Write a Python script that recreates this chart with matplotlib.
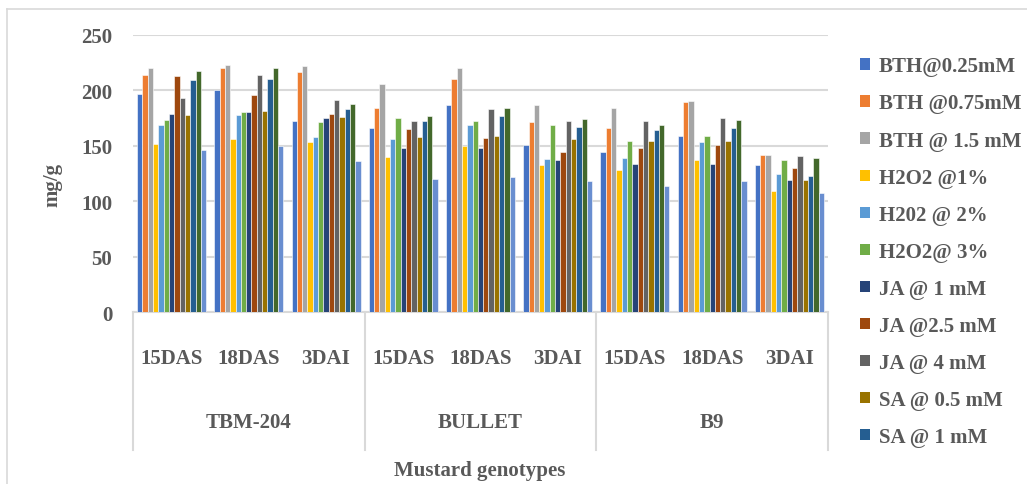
import numpy as np
import matplotlib.pyplot as plt
from matplotlib.patches import Patch
from matplotlib.lines import Line2D
import matplotlib.transforms as mtransforms

# Data: one list per treatment, 9 values = 3 genotypes x 3 stages
stages = ['15DAS', '18DAS', '3DAI']
genotypes = ['TBM-204', 'BULLET', 'B9']

bth_025 = [197, 200, 172, 166, 187, 151, 144, 159, 133]
bth_075 = [214, 220, 216, 184, 210, 171, 166, 189, 142]
bth_15 = [220, 223, 222, 206, 220, 187, 184, 190, 142]
h2o2_1 = [152, 156, 153, 140, 150, 133, 128, 137, 109]
h2o2_2 = [169, 178, 158, 156, 169, 138, 139, 153, 125]
h2o2_3 = [173, 180, 171, 175, 172, 169, 154, 159, 137]
ja_1 = [179, 180, 175, 148, 148, 137, 134, 134, 119]
ja_25 = [213, 196, 179, 165, 157, 144, 148, 151, 130]
ja_4 = [193, 214, 191, 172, 183, 172, 172, 175, 141]
sa_05 = [178, 181, 176, 158, 159, 156, 154, 154, 119]
sa_1 = [209, 210, 183, 172, 177, 167, 164, 166, 123]
series_12 = [217, 220, 188, 177, 184, 174, 169, 173, 139]
series_13 = [146, 150, 136, 120, 122, 118, 114, 118, 107]

series = [bth_025, bth_075, bth_15, h2o2_1, h2o2_2, h2o2_3, ja_1, ja_25,
          ja_4, sa_05, sa_1, series_12, series_13]
legend_labels = ['BTH@0.25mM', 'BTH @0.75mM', 'BTH @ 1.5 mM', 'H2O2 @1%',
                 'H202 @ 2%', 'H2O2@ 3%', 'JA @ 1 mM', 'JA @2.5 mM',
                 'JA @ 4 mM', 'SA @ 0.5 mM', 'SA @ 1 mM']
colors = ['#4472C4', '#ED7D31', '#A5A5A5', '#FFC000', '#5B9BD5', '#70AD47',
          '#264478', '#9E480E', '#636363', '#997300', '#255E91', '#43682B',
          '#698ED0']

TXT = '#595959'
GRID = '#D9D9D9'
plt.rcParams['font.family'] = ['Liberation Serif', 'DejaVu Serif']
plt.rcParams['font.weight'] = 'bold'
FS = 15

fig = plt.figure(figsize=(10.27, 4.85), dpi=100)
ax = fig.add_axes([133 / 1027, 1 - 313.3 / 485, 695 / 1027, 277.6 / 485])

n_cat = len(stages) * len(genotypes)
x = np.arange(n_cat)
group_w = 0.894
bw = group_w / len(series)
for i, vals in enumerate(series):
    offs = -group_w / 2 + bw * (i + 0.5)
    ax.bar(x + offs, vals, bw, color=colors[i], edgecolor='white', linewidth=0.4,
           zorder=3)

ax.set_xlim(-0.5, n_cat - 0.5)
ax.set_ylim(0, 250)
ax.set_yticks(np.arange(0, 251, 50))
ax.yaxis.grid(True, color=GRID, linewidth=1.5, zorder=0)
for s in ['top', 'right', 'left']:
    ax.spines[s].set_visible(False)
ax.spines['bottom'].set_color(GRID)
ax.spines['bottom'].set_linewidth(1.5)
ax.tick_params(axis='y', length=0, pad=15, labelsize=FS, labelcolor=TXT)
ax.tick_params(axis='x', length=0, pad=26, labelsize=FS, labelcolor=TXT)
ax.set_xticks(x)
ax.set_xticklabels(stages * len(genotypes), fontweight='bold')
for lab in ax.get_yticklabels():
    lab.set_fontweight('bold')

# genotype labels and separators under the axis
trans = mtransforms.blended_transform_factory(ax.transData, ax.transAxes)
px = 1 / 277.6
for g, name in enumerate(genotypes):
    ax.text(g * 3 + 1, -110 * px, name, transform=trans, ha='center',
            va='center', fontsize=FS, color=TXT, fontweight='bold')
for b in range(len(genotypes) + 1):
    ax.add_line(Line2D([b * 3 - 0.5, b * 3 - 0.5], [0, -138 * px],
                       transform=trans, color=GRID, linewidth=1.5,
                       clip_on=False))

fig.text(52 / 1027, 1 - 185 / 485, 'mg/g', rotation=90, ha='center',
         va='center', fontsize=FS, color=TXT, fontweight='bold')
fig.text(480 / 1027, 1 - 471 / 485, 'Mustard genotypes', ha='center',
         va='center', fontsize=FS, color=TXT, fontweight='bold')

handles = [Patch(facecolor=c) for c in colors[:len(legend_labels)]]
leg = fig.legend(handles, legend_labels, loc='upper left',
                 bbox_to_anchor=(852 / 1027, 1 - 49 / 485), frameon=False,
                 labelcolor=TXT, handlelength=0.45,
                 handleheight=0.45, handletextpad=0.45, labelspacing=0.82,
                 borderaxespad=0, prop={'weight': 'bold', 'size': FS})

# chart border
fig.add_artist(Line2D([7 / 1027, 7 / 1027], [0, 1 - 10 / 485],
                      transform=fig.transFigure, color=GRID, linewidth=1.2))
fig.add_artist(Line2D([7 / 1027, 1], [1 - 10 / 485, 1 - 10 / 485],
                      transform=fig.transFigure, color=GRID, linewidth=1.2))

fig.savefig('out.png', dpi=100)
